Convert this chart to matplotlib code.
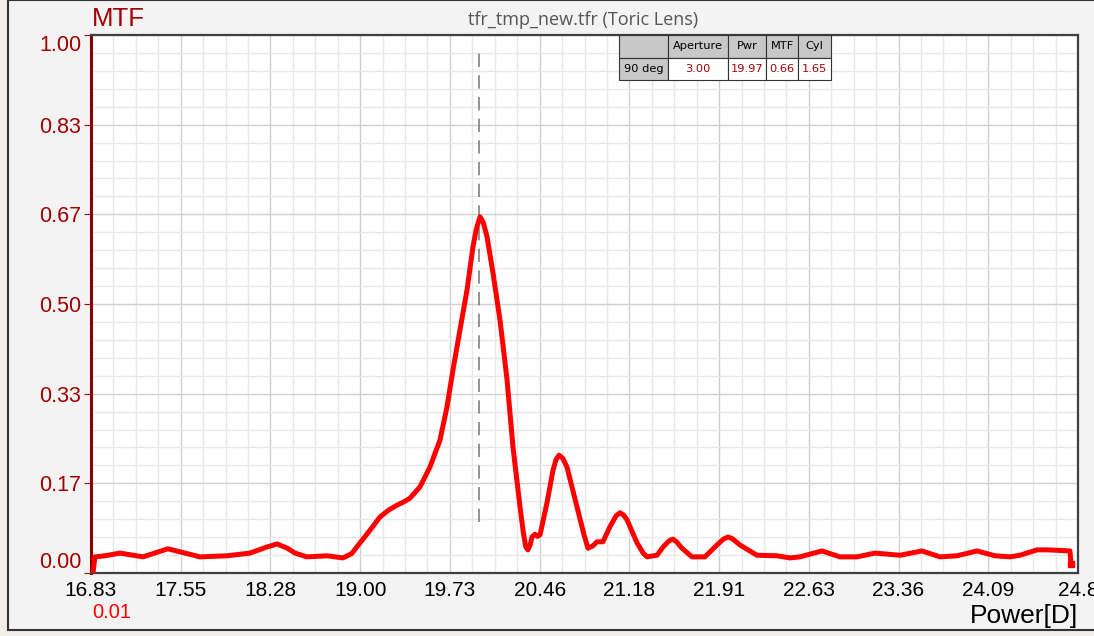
import numpy as np
import matplotlib
matplotlib.use('Agg')
import matplotlib.pyplot as plt
from matplotlib.patches import Rectangle
from matplotlib.ticker import FixedLocator

# MTF through-focus curve
power = [16.846, 16.862, 16.943, 17.065, 17.251, 17.453, 17.712, 17.931, 18.117,
         18.250, 18.336, 18.420, 18.481, 18.578, 18.740, 18.870, 18.940, 19.008,
         19.090, 19.169, 19.240, 19.307, 19.360, 19.412, 19.493, 19.574, 19.655,
         19.712, 19.760, 19.817, 19.874, 19.922, 19.950, 19.979, 20.005, 20.036,
         20.084, 20.141, 20.198, 20.246, 20.303, 20.330, 20.350, 20.367, 20.385,
         20.400, 20.424, 20.445, 20.465, 20.521, 20.570, 20.595, 20.619, 20.650,
         20.683, 20.764, 20.820, 20.853, 20.890, 20.926, 20.974, 21.031, 21.080,
         21.112, 21.140, 21.169, 21.250, 21.300, 21.331, 21.412, 21.460, 21.510,
         21.541, 21.570, 21.614, 21.695, 21.800, 21.897, 21.950, 21.987, 22.020,
         22.084, 22.221, 22.383, 22.488, 22.569, 22.747, 22.893, 23.031, 23.176,
         23.379, 23.557, 23.703, 23.841, 24.002, 24.148, 24.269, 24.350, 24.488,
         24.577, 24.755, 24.763]
mtf = [0.000, 0.030, 0.032, 0.037, 0.030, 0.045, 0.030, 0.032, 0.037,
       0.048, 0.054, 0.046, 0.037, 0.030, 0.032, 0.028, 0.036, 0.056,
       0.080, 0.104, 0.117, 0.126, 0.132, 0.139, 0.160, 0.197, 0.247,
       0.309, 0.377, 0.452, 0.526, 0.606, 0.640, 0.662, 0.652, 0.625,
       0.558, 0.470, 0.359, 0.234, 0.123, 0.075, 0.048, 0.043, 0.052,
       0.067, 0.072, 0.068, 0.071, 0.130, 0.191, 0.211, 0.219, 0.213,
       0.197, 0.123, 0.072, 0.046, 0.050, 0.058, 0.058, 0.086, 0.106,
       0.112, 0.108, 0.099, 0.056, 0.037, 0.030, 0.033, 0.048, 0.060,
       0.063, 0.058, 0.046, 0.030, 0.030, 0.052, 0.063, 0.067, 0.064,
       0.052, 0.033, 0.032, 0.028, 0.030, 0.041, 0.030, 0.030, 0.037,
       0.033, 0.041, 0.030, 0.032, 0.041, 0.032, 0.030, 0.033, 0.043,
       0.043, 0.041, 0.017]

x_min, x_max = 16.83, 24.82
x_labels = ['16.83', '17.55', '18.28', '19.00', '19.73', '20.46', '21.18',
            '21.91', '22.63', '23.36', '24.09', '24.8']
y_labels = ['0.00', '0.17', '0.33', '0.50', '0.67', '0.83', '1.00']

table_cols = ['', 'Aperture', 'Pwr', 'MTF', 'Cyl']
table_row = ['90 deg', '3.00', '19.97', '0.66', '1.65']
best_power = 19.97
marker_lo, marker_hi = 0.095, 0.98

DARK_RED = '#a00000'
W, H = 1094, 636

fig = plt.figure(figsize=(W / 100, H / 100), dpi=100)
fig.patch.set_facecolor('#efeee8')
# window panel with dark frame
fig.patches.append(Rectangle((8 / W, 1 - 630 / H), 1.2, 630 / H, transform=fig.transFigure,
                             facecolor='#f3f3f3', edgecolor='#333333', linewidth=1.5,
                             zorder=-10))

ax = fig.add_axes([91 / W, 1 - 573 / H, 987 / W, 538 / H])
ax.set_facecolor('white')
ax.set_xlim(x_min, x_max)
ax.set_ylim(0, 1)

xt = np.linspace(x_min, x_max, len(x_labels))
yt = np.linspace(0, 1, len(y_labels))
ax.xaxis.set_major_locator(FixedLocator(xt))
ax.yaxis.set_major_locator(FixedLocator(yt))
ax.xaxis.set_minor_locator(FixedLocator(np.linspace(x_min, x_max, 4 * (len(x_labels) - 1) + 1)))
ax.yaxis.set_minor_locator(FixedLocator(np.linspace(0, 1, 5 * (len(y_labels) - 1) + 1)))
ax.set_xticklabels(x_labels, fontsize=15, family='Liberation Sans', color='black')
ax.set_yticklabels(y_labels, fontsize=15.5, family='Liberation Sans', color=DARK_RED)
ytl = ax.get_yticklabels()
ytl[0].set_va('bottom')
ytl[-1].set_va('top')

ax.grid(which='minor', color='#e8e8e8', linewidth=1, zorder=0)
ax.grid(which='major', color='#cfcfcf', linewidth=1, zorder=0)
ax.set_axisbelow(True)
ax.tick_params(axis='x', which='both', length=0, pad=6)
ax.tick_params(axis='y', which='major', length=5, color=DARK_RED, pad=2)
ax.tick_params(axis='y', which='minor', length=0)

for side in ['top', 'right', 'bottom']:
    ax.spines[side].set_color('#404040')
    ax.spines[side].set_linewidth(1.6)
ax.spines['left'].set_color('#8b0000')
ax.spines['left'].set_linewidth(2.2)

ax.plot(power, mtf, color='#ff0000', linewidth=3.6, solid_joinstyle='round',
        solid_capstyle='round', zorder=3)
ax.plot([power[-1]], [mtf[-1]], 's', color='#ff0000', markersize=4, zorder=3)
ax.plot([best_power, best_power], [marker_lo, marker_hi], color='#808080',
        linewidth=1.2, dashes=(8, 5), zorder=2)

# readout table
tbl = ax.table(cellText=[table_row], colLabels=table_cols,
               colWidths=[49, 60, 38, 32, 33],
               bbox=[(619 - 91) / 987, 1 - 45 / 538, 212 / 987, 45 / 538],
               cellLoc='center', zorder=5)
tbl.auto_set_font_size(False)
for (r, c), cell in tbl.get_celld().items():
    cell.set_edgecolor('#333333')
    cell.set_linewidth(0.8)
    cell.get_text().set_fontsize(8.2)
    cell.get_text().set_family('DejaVu Sans')
    if r == 0 or c == 0:
        cell.set_facecolor('#c8c8c8')
        cell.get_text().set_color('black')
    else:
        cell.set_facecolor('white')
        cell.get_text().set_color(DARK_RED)

fig.text(583 / W, 1 - 20 / H, 'tfr_tmp_new.tfr (Toric Lens)', ha='center', va='center',
         fontsize=13, family='Open Sans', color='#555555')
fig.text(92 / W, 1 - 19 / H, 'MTF', ha='left', va='center', fontsize=18.5,
         family='Liberation Sans', color=DARK_RED)
fig.text(1078 / W, 1 - 616 / H, 'Power[D]', ha='right', va='center', fontsize=19,
         family='Liberation Sans', color='black')
fig.text(112 / W, 1 - 613 / H, '0.01', ha='center', va='center', fontsize=14.5,
         family='Liberation Sans', color='#ff0000')

fig.savefig('out.png', dpi=100, facecolor=fig.get_facecolor())
